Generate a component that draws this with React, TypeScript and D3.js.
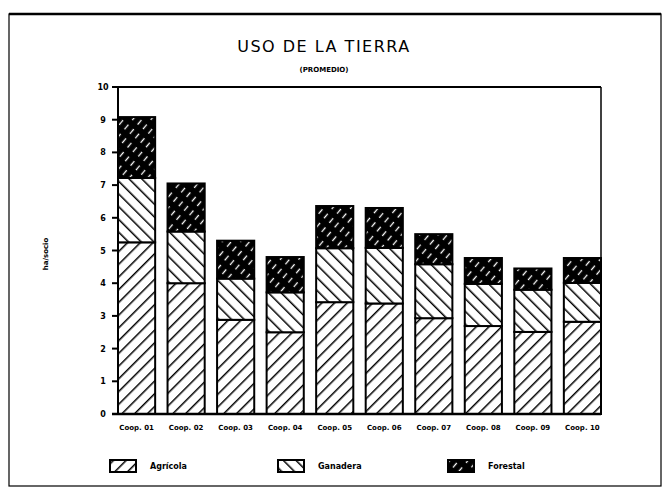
import React from "react";
import * as d3 from "d3";

const categories = ["Coop. 01", "Coop. 02", "Coop. 03", "Coop. 04", "Coop. 05", "Coop. 06", "Coop. 07", "Coop. 08", "Coop. 09", "Coop. 10"];
const agricola = [5.25, 4.0, 2.88, 2.5, 3.42, 3.38, 2.93, 2.69, 2.51, 2.82];
const ganadera = [1.97, 1.58, 1.26, 1.22, 1.65, 1.7, 1.65, 1.29, 1.29, 1.19];
const forestal = [1.86, 1.47, 1.16, 1.08, 1.29, 1.22, 0.92, 0.79, 0.65, 0.76];
const yTicks = [0, 1, 2, 3, 4, 5, 6, 7, 8, 9, 10];
const seriesNames = ["Agrícola", "Ganadera", "Forestal"];

const W = 667;
const H = 498;
const M = { left: 118, right: 601, top: 87, bottom: 414 };

export default function App() {
  const x = d3.scaleBand<string>().domain(categories).range([M.left, M.right]).paddingInner(0.25).paddingOuter(0);
  const y = d3.scaleLinear().domain([0, 10]).range([M.bottom, M.top]);
  const rows = categories.map((c, i) => ({ cat: c, Agrícola: agricola[i], Ganadera: ganadera[i], Forestal: forestal[i] }));
  const stack = d3.stack<any>().keys(seriesNames)(rows);
  const fills = ["url(#pAgr)", "url(#pGan)", "url(#pFor)"];
  const legendX = [110, 278, 448];

  return (
    <svg width={W} height={H} style={{ position: "absolute", left: 0, top: 0, background: "#fff" }}>
      <defs>
        <pattern id="pAgr" patternUnits="userSpaceOnUse" width={9} height={9} patternTransform="rotate(45)">
          <rect width={9} height={9} fill="#fff" />
          <line x1={0} y1={0} x2={0} y2={9} stroke="#000" strokeWidth={3} />
        </pattern>
        <pattern id="pGan" patternUnits="userSpaceOnUse" width={9} height={9} patternTransform="rotate(-45)">
          <rect width={9} height={9} fill="#fff" />
          <line x1={0} y1={0} x2={0} y2={9} stroke="#000" strokeWidth={3} />
        </pattern>
        <pattern id="pFor" patternUnits="userSpaceOnUse" width={7} height={12} patternTransform="rotate(40)">
          <rect width={7} height={12} fill="#000" />
          <line x1={3.5} y1={1} x2={3.5} y2={7} stroke="#fff" strokeWidth={1.3} />
        </pattern>
      </defs>

      {/* outer frame */}
      <rect x={9} y={14} width={652} height={472} fill="none" stroke="#000" strokeWidth={1.2} />
      <line x1={9} y1={14} x2={661} y2={14} stroke="#000" strokeWidth={2.5} />

      {/* title */}
      <text x={324} y={52} textAnchor="middle" fontFamily="DejaVu Sans" fontSize={16} letterSpacing={1.5} fill="#000">
        USO DE LA TIERRA
      </text>
      <text x={324} y={72} textAnchor="middle" fontFamily="DejaVu Sans" fontWeight="bold" fontSize={7} fill="#000">
        (PROMEDIO)
      </text>

      {/* plot frame */}
      <line x1={M.left} y1={M.top} x2={M.right} y2={M.top} stroke="#000" strokeWidth={2} />
      <line x1={M.right} y1={M.top} x2={M.right} y2={M.bottom} stroke="#000" strokeWidth={1.5} />

      {/* bars */}
      {stack.map((s, si) => (
        <g key={s.key}>
          {s.map((d, i) => (
            <rect
              key={i}
              x={x(categories[i])}
              y={y(d[1])}
              width={x.bandwidth()}
              height={y(d[0]) - y(d[1])}
              fill={fills[si]}
              stroke="#000"
              strokeWidth={2}
            />
          ))}
        </g>
      ))}

      {/* axes */}
      <line x1={M.left} y1={M.top} x2={M.left} y2={M.bottom} stroke="#000" strokeWidth={2} />
      <line x1={M.left - 6} y1={M.bottom} x2={M.right} y2={M.bottom} stroke="#000" strokeWidth={2.5} />
      {yTicks.map((t) => (
        <g key={t}>
          <line x1={M.left - 6} x2={M.left} y1={y(t)} y2={y(t)} stroke="#000" strokeWidth={2} />
          <text x={M.left - 15} y={y(t) + 3} textAnchor="middle" fontFamily="DejaVu Sans" fontWeight="bold" fontSize={8} fill="#000">
            {t}
          </text>
        </g>
      ))}
      {categories.map((c) => (
        <text key={c} x={(x(c) as number) + x.bandwidth() / 2} y={430} textAnchor="middle" fontFamily="DejaVu Sans" fontWeight="bold" fontSize={7} fill="#000">
          {c}
        </text>
      ))}
      <text transform={`translate(48,254) rotate(-90)`} textAnchor="middle" fontFamily="DejaVu Sans" fontWeight="bold" fontSize={7} fill="#000">
        ha/socio
      </text>

      {/* legend */}
      {seriesNames.map((n, i) => (
        <g key={n}>
          <rect x={legendX[i]} y={460} width={26} height={12} fill={fills[i]} stroke="#000" strokeWidth={2} />
          <text x={legendX[i] + 40} y={469} fontFamily="DejaVu Sans" fontWeight="bold" fontSize={8} fill="#000">
            {n}
          </text>
        </g>
      ))}
    </svg>
  );
}
